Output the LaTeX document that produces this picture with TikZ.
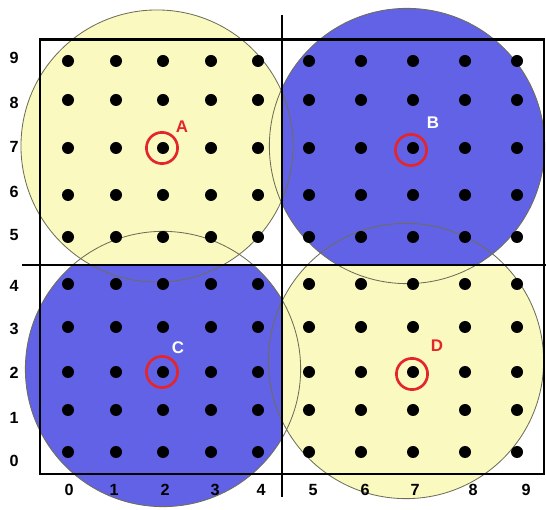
\documentclass[tikz,border=0pt]{standalone}
\usepackage{fontspec}
\setmainfont{Liberation Sans}
\usepackage{tikz}
\usetikzlibrary{positioning}
\definecolor{qyellow}{HTML}{FAFAC0}
\definecolor{qblue}{HTML}{6262E6}
\definecolor{qring}{HTML}{6E6E58}
\definecolor{qred}{HTML}{E3262B}

\begin{document}
\begin{tikzpicture}[
  x=0.025cm, y=-0.025cm,
  disc/.style={circle, minimum size=6.88cm, inner sep=0pt},
  marker/.style={circle, draw=qred, line width=1.9pt, minimum size=0.78cm, inner sep=0pt},
  tick/.style={font=\fontsize{11.5}{13}\selectfont\bfseries},
  tag/.style={font=\fontsize{12}{14}\selectfont\bfseries},
]
  \useasboundingbox (0,0) rectangle (546,510);

  % ---- fills, each one kept to its own quadrant -----------------------------
  \begin{scope}
    \clip (0,0) rectangle (282,265);
    \node[disc, minimum size=6.8cm, fill=qyellow] at (157,146) {};
  \end{scope}
  \begin{scope}
    \clip (282,0) rectangle (546,265);
    \node[disc, fill=qblue] at (407,146) {};
  \end{scope}
  \begin{scope}
    \clip (0,265) rectangle (282,510);
    \node[disc, fill=qblue] at (163,369) {};
  \end{scope}
  \begin{scope}
    \clip (282,265) rectangle (546,510);
    \node[disc, fill=qyellow] at (406,361) {};
  \end{scope}

  % ---- outlines ---------------------------------------------------------------
  \node[disc, minimum size=6.8cm, draw=qring, line width=0.6pt] (circA) at (157,146) {};
  \node[disc, draw=qring, line width=0.6pt] (circB) at (407,146) {};
  \node[disc, draw=qring, line width=0.6pt] (circC) at (163,369) {};
  \node[disc, draw=qring, line width=0.6pt] (circD) at (406,361) {};

  % ---- frame and dividers -------------------------------------------------------
  \draw[line width=0.8pt] (282,15) -- (282,497);
  \draw[line width=0.8pt] (22,265) -- (546,265);
  \draw[line width=2pt] (40,39.5) rectangle (544,474);

  % ---- dots ---------------------------------------------------------------------
  \foreach \x in {68,116,163,211,258,309,361,413,465,517}
    \foreach \y in {61,100,148,195,237,284,327,372,410,452}
      \fill (\x,\y) circle[radius=0.15cm];

  % ---- axis numbers ---------------------------------------------------------------
  \foreach \x/\n in {69/0,114/1,165/2,215/3,261/4,313/5,365/6,415/7,473/8,526/9}
    \node[tick] (xn\n) at (\x,490) {\n};
  \foreach \y/\n in {461/0,418/1,373/2,329/3,286/4,235/5,192/6,147/7,103/8,58/9}
    \node[tick] (yn\n) at (14,\y) {\n};

  % ---- marked points ----------------------------------------------------------------
  \node[marker] (markA) at (162,148) {};
  \node[marker] (markB) at (411,150) {};
  \node[marker] (markC) at (162,372) {};
  \node[marker] (markD) at (412,374) {};
  \node[tag, text=qred] (labA) at (182,127) {A};
  \node[tag, text=white] (labB) at (433,123) {B};
  \node[tag, text=white] (labC) at (178,348) {C};
  \node[tag, text=qred] (labD) at (437,346) {D};
\end{tikzpicture}
\end{document}
